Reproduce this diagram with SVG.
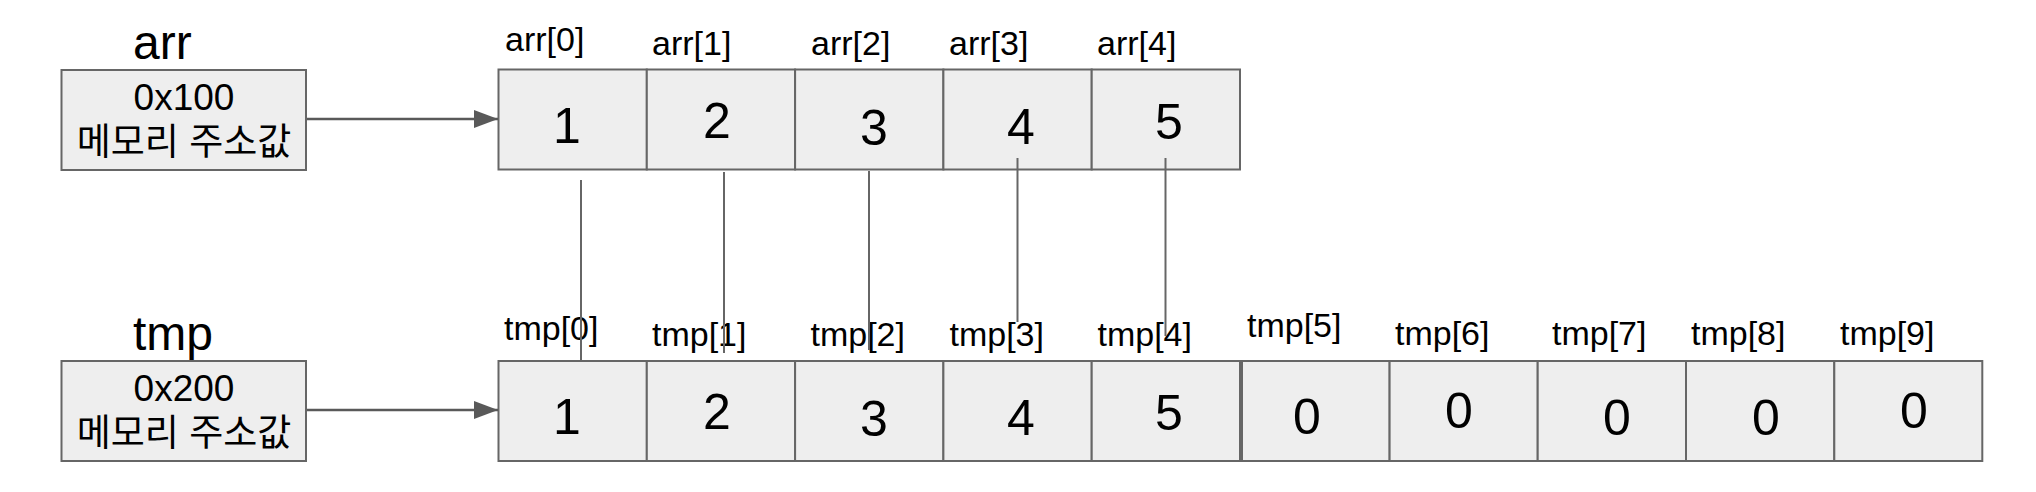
<svg xmlns="http://www.w3.org/2000/svg" width="2036" height="492" viewBox="0 0 2036 492">
<defs>
<style>
text{font-family:"Liberation Sans",Arial,"Noto Sans CJK KR",sans-serif;fill:#000}
.box{fill:#eeeeee;stroke:#666666;stroke-width:2}
.title{font-size:48px}
.addr{font-size:37px;text-anchor:middle}
.lbl{font-size:34px}
.num{font-size:50px;text-anchor:middle}
.conn{stroke:#666666;stroke-width:2;fill:none}
.ptr{stroke:#595959;stroke-width:2.5;fill:none}
</style>
<marker id="ah" viewBox="0 0 24 18" refX="24" refY="9" markerWidth="24" markerHeight="18" markerUnits="userSpaceOnUse" orient="auto">
<path d="M0,0 L24,9 L0,18 Z" fill="#595959"/>
</marker>
</defs>
<rect width="2036" height="492" fill="#ffffff"/>

<g id="arr-var">
<text class="title" x="133" y="59">arr</text>
<rect class="box" x="61.5" y="70" width="244.5" height="100"/>
<text class="addr" x="184" y="110">0x100</text>
<text class="addr" x="184" y="155">메모리 주소값</text>
</g>

<g id="tmp-var">
<text class="title" x="133" y="350">tmp</text>
<rect class="box" x="61.5" y="361" width="244.5" height="100"/>
<text class="addr" x="184" y="401">0x200</text>
<text class="addr" x="184" y="446">메모리 주소값</text>
</g>

<g id="arr-array">
<rect class="box" x="498.5" y="69.5" width="148.3" height="100"/>
<rect class="box" x="646.8" y="69.5" width="148.3" height="100"/>
<rect class="box" x="795.1" y="69.5" width="148.3" height="100"/>
<rect class="box" x="943.4" y="69.5" width="148.3" height="100"/>
<rect class="box" x="1091.7" y="69.5" width="148.3" height="100"/>
<text class="lbl" x="505" y="51">arr[0]</text>
<text class="lbl" x="652" y="55">arr[1]</text>
<text class="lbl" x="811" y="55">arr[2]</text>
<text class="lbl" x="949" y="55">arr[3]</text>
<text class="lbl" x="1097" y="55">arr[4]</text>
<text class="num" x="567" y="143">1</text>
<text class="num" x="717" y="138">2</text>
<text class="num" x="874" y="145">3</text>
<text class="num" x="1021" y="144">4</text>
<text class="num" x="1169" y="139">5</text>
</g>

<g id="tmp-array">
<rect class="box" x="498.5" y="361" width="148.3" height="100"/>
<rect class="box" x="646.8" y="361" width="148.3" height="100"/>
<rect class="box" x="795.1" y="361" width="148.3" height="100"/>
<rect class="box" x="943.4" y="361" width="148.3" height="100"/>
<rect class="box" x="1091.7" y="361" width="148.3" height="100"/>
<rect class="box" x="1242" y="361" width="147.6" height="100"/>
<rect class="box" x="1389.6" y="361" width="148.1" height="100"/>
<rect class="box" x="1537.7" y="361" width="148.3" height="100"/>
<rect class="box" x="1686" y="361" width="148.3" height="100"/>
<rect class="box" x="1834.3" y="361" width="148" height="100"/>
<text class="lbl" x="504" y="340">tmp[0]</text>
<text class="lbl" x="652" y="346">tmp[1]</text>
<text class="lbl" x="810.5" y="346">tmp[2]</text>
<text class="lbl" x="949.5" y="346">tmp[3]</text>
<text class="lbl" x="1097.5" y="346">tmp[4]</text>
<text class="lbl" x="1247" y="337">tmp[5]</text>
<text class="lbl" x="1395" y="345">tmp[6]</text>
<text class="lbl" x="1552" y="345">tmp[7]</text>
<text class="lbl" x="1691" y="345">tmp[8]</text>
<text class="lbl" x="1840" y="345">tmp[9]</text>
<text class="num" x="567" y="434">1</text>
<text class="num" x="717" y="429">2</text>
<text class="num" x="874" y="436">3</text>
<text class="num" x="1021" y="435">4</text>
<text class="num" x="1169" y="430">5</text>
<text class="num" x="1307" y="434">0</text>
<text class="num" x="1459" y="428">0</text>
<text class="num" x="1617" y="435">0</text>
<text class="num" x="1766" y="435">0</text>
<text class="num" x="1914" y="428">0</text>
</g>

<g id="connectors">
<line class="ptr" x1="307" y1="119" x2="498" y2="119" marker-end="url(#ah)"/>
<line class="ptr" x1="307" y1="410" x2="498" y2="410" marker-end="url(#ah)"/>
<line class="conn" x1="581" y1="180" x2="581" y2="361"/>
<line class="conn" x1="724" y1="172" x2="724" y2="353"/>
<line class="conn" x1="869" y1="171" x2="869" y2="350"/>
<line class="conn" x1="1017.5" y1="158" x2="1017.5" y2="322"/>
<line class="conn" x1="1165.5" y1="158" x2="1165.5" y2="336"/>
</g>
</svg>
